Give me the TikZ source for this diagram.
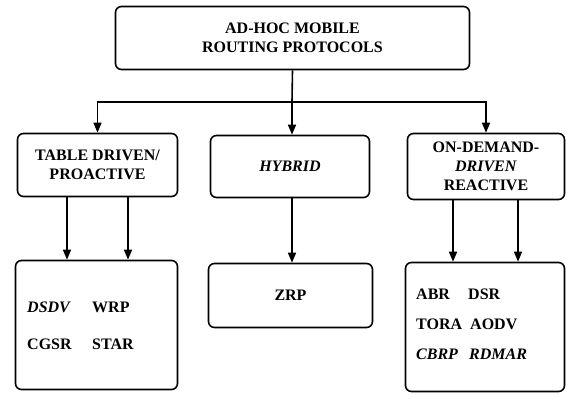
\documentclass[tikz,border=0pt]{standalone}
\usepackage{fontspec}
\setmainfont{Liberation Serif}
\usetikzlibrary{arrows.meta}
\begin{document}
\begin{tikzpicture}[x=1pt,y=-1pt]
\tikzset{edge/.style = {-{Triangle[length=10pt,width=8pt]}, line width=1.6pt}}
\tikzset{line/.style = {line width=1.6pt}}
\tikzset{box/.style = {draw, line width=1.6pt, rounded corners=6pt, align=center,
  font=\fontsize{16}{19}\selectfont\bfseries, inner sep=0pt}}
\tikzset{item/.style = {anchor=west, inner sep=0pt, font=\fontsize{16}{19}\selectfont\bfseries}}
\useasboundingbox (0,0) rectangle (566,396);
% boxes
\node[box, minimum width=354pt, minimum height=63pt](root) at (292.5,38) {AD-HOC MOBILE\\ROUTING PROTOCOLS};
\node[box, minimum width=160pt, minimum height=63pt](tbl) at (97.5,165) {TABLE DRIVEN/\\PROACTIVE};
\node[box, minimum width=159pt, minimum height=62pt](hyb) at (290,166.5) {\textit{HYBRID}};
\node[box, minimum width=157pt, minimum height=66pt](dem) at (486,166.5) {ON-DEMAND-\\\textit{DRIVEN}\\REACTIVE};
\node[box, minimum width=162pt, minimum height=129pt](tblp) at (96.5,325) {};
\node[box, minimum width=164pt, minimum height=64pt](hybp) at (290.5,295.5) {ZRP};
\node[box, minimum width=159pt, minimum height=129pt](demp) at (485,327) {};
% protocols
\node[item](dsdv) at (27,307) {\textit{DSDV}};
\node[item](wrp) at (92,307) {WRP};
\node[item](cgsr) at (27,344) {CGSR};
\node[item](star) at (92,344) {STAR};
\node[item](abr) at (416,294) {ABR};
\node[item](dsr) at (468,294) {DSR};
\node[item](tora) at (416,324) {TORA};
\node[item](aodv) at (470,324) {AODV};
\node[item](cbrp) at (416,354) {\textit{CBRP}};
\node[item](rdmar) at (469,354) {\textit{RDMAR}};
% connectors
\coordinate (bus) at (292,102);
\draw[line] (root.south) -- (bus);
\draw[edge] (bus) -| (tbl.north);
\draw[edge] (bus) -| (dem.north);
\draw[edge] (bus) -- (hyb.north -| bus);
\draw[edge] ([xshift=-30.5pt]tbl.south) -- ([xshift=-29.5pt]tblp.north);
\draw[edge] ([xshift=30.5pt]tbl.south) -- ([xshift=31.5pt]tblp.north);
\draw[edge] (hyb.south -| bus) -- (hybp.north -| bus);
\draw[edge] ([xshift=-33pt]dem.south) -- ([xshift=-32pt]demp.north);
\draw[edge] ([xshift=32pt]dem.south) -- ([xshift=33pt]demp.north);
\end{tikzpicture}
\end{document}
